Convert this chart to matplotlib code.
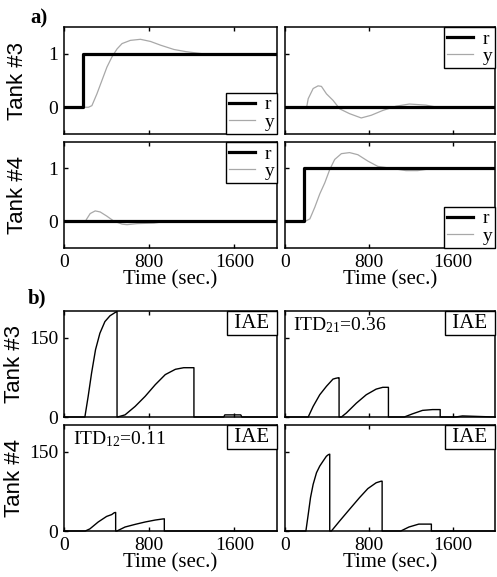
import matplotlib
matplotlib.use("Agg")
import matplotlib.pyplot as plt
from matplotlib.offsetbox import AnchoredText

plt.rcParams["font.family"] = ["Liberation Serif", "DejaVu Serif"]
plt.rcParams["mathtext.fontset"] = "custom"
plt.rcParams["mathtext.rm"] = "Liberation Serif"
plt.rcParams["mathtext.it"] = "Liberation Serif:italic"

# set-point steps (r) for the step tests
r_t = [0, 180, 180, 2000]
r_step = [0, 0, 1, 1]
r_flat = [0, 0, 0, 0]

# tank outputs (y): left column = step on loop 3, right column = step on loop 4
y33_t = [0, 230, 262, 309, 356, 403, 450, 498, 545, 623, 718, 812, 907, 1032, 1143, 1300, 2000]
y33 = [0, 0, 0.03, 0.25, 0.5, 0.75, 0.94, 1.09, 1.19, 1.25, 1.27, 1.23, 1.16, 1.08, 1.04, 1.0, 1.0]

y34_t = [0, 206, 221, 268, 315, 347, 395, 457, 521, 615, 726, 821, 931, 1058, 1184, 1342, 1450, 2000]
y34 = [0, 0, 0.16, 0.35, 0.4, 0.39, 0.25, 0.13, -0.03, -0.12, -0.2, -0.15, -0.06, 0.02, 0.06, 0.04, 0, 0]

y43_t = [0, 200, 214, 246, 293, 340, 403, 466, 545, 592, 687, 843, 950, 2000]
y43 = [0, 0, 0.05, 0.15, 0.2, 0.18, 0.1, 0.01, -0.05, -0.06, -0.04, -0.03, 0, 0]

y44_t = [0, 189, 237, 284, 331, 379, 426, 473, 537, 615, 694, 789, 884, 1058, 1152, 1263, 1400, 2000]
y44 = [0, 0, 0.05, 0.27, 0.52, 0.73, 0.98, 1.17, 1.28, 1.30, 1.26, 1.14, 1.04, 0.99, 0.96, 0.96, 1.0, 1.0]

# windowed IAE traces
iae33_t = [0, 196, 227, 259, 296, 337, 384, 432, 479, 498, 498, 503, 573, 668, 762, 857, 951,
           1046, 1124, 1220, 1220, 1500, 1510, 1660, 1670, 2000]
iae33 = [0, 0, 39, 83, 127, 158, 180, 191, 197, 199, 0, 0, 4, 20, 39, 61, 80,
         90, 93, 93, 0, 0, 4, 4, 0, 0]

iae34_t = [0, 221, 268, 331, 395, 457, 483, 508, 515, 515, 537, 584, 679, 774, 868, 931, 978,
           985, 985, 1136, 1215, 1310, 1405, 1478, 1478, 1625, 1690, 2000]
iae34 = [0, 0, 20, 42, 58, 71.5, 73, 74, 74, 0, 0, 7.5, 26, 42, 52.6, 56, 56,
         56, 0, 0, 6, 12.5, 14, 14, 0, 0, 2, 0]

iae43_t = [0, 200, 243, 321, 400, 448, 472, 485, 485, 497, 573, 668, 762, 857, 920, 942,
           942, 2000]
iae43 = [0, 0, 4, 17, 27.5, 31, 34.5, 35, 0, 0, 7.5, 12.5, 17, 20.7, 22.5, 23,
         0, 0]

iae44_t = [0, 199, 221, 243, 268, 300, 331, 363, 394, 413, 426, 426, 442, 521, 615, 710, 789,
           868, 916, 925, 925, 1103, 1180, 1274, 1369, 1394, 1394, 2000]
iae44 = [0, 0, 31, 63, 88, 110, 122.5, 132, 141, 144, 145, 0, 0, 19, 41, 63, 80,
         91, 94, 94, 0, 0, 7.5, 13, 13, 13, 0, 0]

itd_labels = {"21": "0.36", "12": "0.11"}
time_ticks = [0, 800, 1600]

W, H = 497, 577
fig = plt.figure(figsize=(W / 100, H / 100), dpi=100)


def box(x0, y0, x1, y1):
    return [x0 / W, 1 - y1 / H, (x1 - x0) / W, (y1 - y0) / H]


def style(ax, ylim, yticks, left, bottom):
    ax.set_xlim(0, 2000)
    ax.set_ylim(*ylim)
    ax.set_xticks(time_ticks)
    ax.set_yticks(yticks)
    ax.tick_params(direction="in", length=3, width=1, top=True, right=False,
                   labelsize=14, pad=4)
    for s in ax.spines.values():
        s.set_linewidth(1.1)
    if not left:
        ax.tick_params(labelleft=False)
    if not bottom:
        ax.tick_params(labelbottom=False)
    else:
        ax.set_xlabel("Time (sec.)", fontsize=15, labelpad=0)


def tank_label(ax, text, xpos):
    ax.set_ylabel(text, family="Liberation Sans", fontsize=16)
    ax.yaxis.set_label_coords(xpos, 0.5)


cols = [(64, 277), (285, 495)]
rows_a = [(27, 134), (142, 248)]
rows_b = [(311, 417), (425, 531)]

# panel a: step responses
a_data = [
    [(r_step, y33_t, y33, "lower right"), (r_flat, y34_t, y34, "upper right")],
    [(r_flat, y43_t, y43, "upper right"), (r_step, y44_t, y44, "lower right")],
]
for i, (y0, y1) in enumerate(rows_a):
    for j, (x0, x1) in enumerate(cols):
        ax = fig.add_axes(box(x0, y0, x1, y1))
        r, yt, yv, loc = a_data[i][j]
        hy, = ax.plot(yt, yv, color="#a8a8a8", lw=0.9, zorder=2)
        hr, = ax.plot(r_t, r, color="black", lw=2.3, zorder=3)
        leg = ax.legend([hr, hy], ["r", "y"], loc=loc, fontsize=14, frameon=True,
                        fancybox=False, framealpha=1, edgecolor="black",
                        borderaxespad=0, borderpad=0.15, labelspacing=0.0,
                        handlelength=1.3, handletextpad=0.5)
        leg.get_frame().set_linewidth(1.0)
        style(ax, (-0.5, 1.5), [0, 1], j == 0, i == 1)
        if j == 0:
            tank_label(ax, "Tank #3" if i == 0 else "Tank #4", -0.17)

# panel b: IAE traces
b_data = [[iae33_t, iae33, iae34_t, iae34], [iae43_t, iae43, iae44_t, iae44]]
for i, (y0, y1) in enumerate(rows_b):
    for j, (x0, x1) in enumerate(cols):
        ax = fig.add_axes(box(x0, y0, x1, y1))
        t, v = b_data[i][2 * j], b_data[i][2 * j + 1]
        ax.plot(t, v, color="black", lw=1.0, clip_on=False)
        at = AnchoredText(" IAE ", loc="upper right", pad=0.12, borderpad=0,
                          prop=dict(fontsize=15))
        at.patch.set_boxstyle("square,pad=0")
        at.patch.set_linewidth(1.0)
        ax.add_artist(at)
        style(ax, (0, 200), [0, 150], j == 0, i == 1)
        if j == 0:
            tank_label(ax, "Tank #3" if i == 0 else "Tank #4", -0.185)
        if (i, j) == (0, 1):
            ax.text(0.04, 0.96, r"ITD$_{21}$=" + itd_labels["21"], transform=ax.transAxes,
                    ha="left", va="top", fontsize=14)
        if (i, j) == (1, 0):
            ax.text(0.04, 0.96, r"ITD$_{12}$=" + itd_labels["12"], transform=ax.transAxes,
                    ha="left", va="top", fontsize=14)

fig.text(30 / W, 1 - 28 / H, "a)", fontsize=15, fontweight="bold", va="bottom")
fig.text(28 / W, 1 - 308 / H, "b)", fontsize=15, fontweight="bold", va="bottom")

fig.savefig("out.png", dpi=100)
